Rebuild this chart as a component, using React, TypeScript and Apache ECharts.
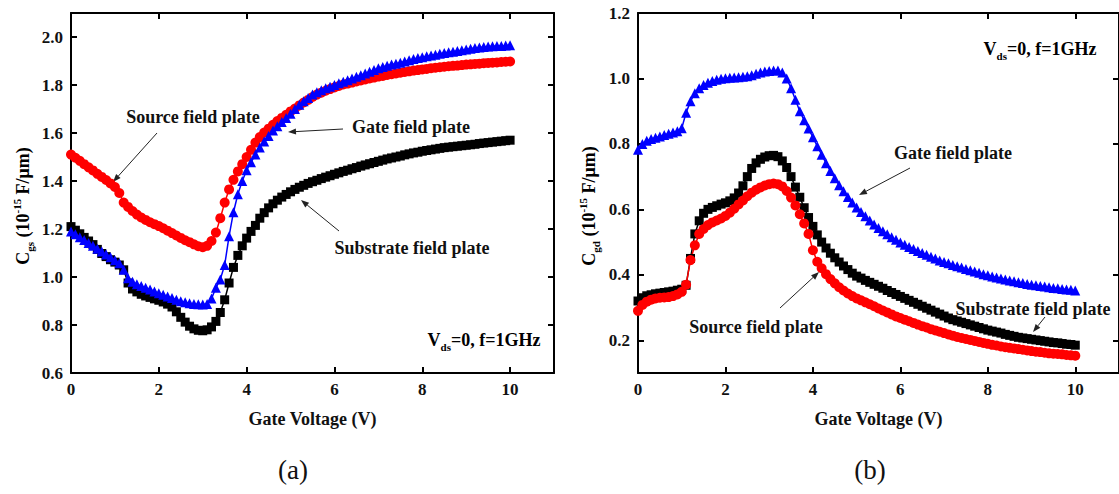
import React, { useEffect, useRef } from 'react';
import * as echarts from 'echarts';

// Gate voltage sweep: 0 .. 10 V, step 0.1 V
const VG_STEP = 0.1;

// (a) Cgs (10^-15 F/um)
const CGS_SOURCE = [
  1.510, 1.497, 1.484, 1.470, 1.457, 1.444, 1.430, 1.417, 1.404, 1.390,
  1.375, 1.350, 1.310, 1.292, 1.275, 1.260, 1.248, 1.238, 1.228, 1.220,
  1.212, 1.203, 1.193, 1.183, 1.173, 1.163, 1.153, 1.145, 1.136, 1.128,
  1.124, 1.130, 1.150, 1.185, 1.245, 1.310, 1.365, 1.405, 1.440, 1.470,
  1.500, 1.530, 1.560, 1.583, 1.602, 1.618, 1.634, 1.650, 1.663, 1.676,
  1.690, 1.702, 1.715, 1.727, 1.738, 1.750, 1.760, 1.768, 1.776, 1.783,
  1.790, 1.796, 1.802, 1.806, 1.810, 1.815, 1.819, 1.823, 1.827, 1.831,
  1.835, 1.838, 1.842, 1.845, 1.848, 1.851, 1.854, 1.857, 1.860, 1.862,
  1.865, 1.867, 1.870, 1.872, 1.874, 1.876, 1.878, 1.880, 1.881, 1.883,
  1.885, 1.886, 1.888, 1.889, 1.891, 1.892, 1.893, 1.894, 1.896, 1.897,
  1.898,
];
const CGS_GATE = [
  1.190, 1.178, 1.166, 1.154, 1.142, 1.130, 1.118, 1.106, 1.094, 1.082,
  1.070, 1.057, 1.030, 0.995, 0.980, 0.970, 0.962, 0.955, 0.948, 0.940,
  0.932, 0.926, 0.919, 0.912, 0.905, 0.899, 0.895, 0.891, 0.888, 0.886,
  0.885, 0.888, 0.910, 0.955, 0.990, 1.050, 1.170, 1.270, 1.345, 1.400,
  1.445, 1.478, 1.510, 1.540, 1.565, 1.588, 1.610, 1.628, 1.646, 1.663,
  1.680, 1.700, 1.718, 1.732, 1.746, 1.760, 1.770, 1.778, 1.786, 1.793,
  1.800, 1.807, 1.814, 1.820, 1.827, 1.834, 1.841, 1.848, 1.855, 1.862,
  1.870, 1.875, 1.880, 1.885, 1.889, 1.893, 1.898, 1.903, 1.908, 1.912,
  1.916, 1.920, 1.923, 1.926, 1.930, 1.933, 1.936, 1.939, 1.942, 1.945,
  1.948, 1.951, 1.954, 1.956, 1.958, 1.960, 1.961, 1.962, 1.963, 1.965,
  1.966,
];
const CGS_SUBSTRATE = [
  1.210, 1.195, 1.180, 1.165, 1.150, 1.135, 1.115, 1.098, 1.085, 1.072,
  1.062, 1.050, 1.030, 0.975, 0.950, 0.938, 0.928, 0.921, 0.915, 0.909,
  0.903, 0.896, 0.887, 0.875, 0.855, 0.832, 0.812, 0.795, 0.784, 0.778,
  0.776, 0.780, 0.792, 0.815, 0.852, 0.905, 0.975, 1.040, 1.090, 1.130,
  1.162, 1.190, 1.215, 1.245, 1.268, 1.288, 1.305, 1.320, 1.333, 1.344,
  1.355, 1.365, 1.374, 1.382, 1.390, 1.397, 1.403, 1.410, 1.416, 1.422,
  1.428, 1.434, 1.440, 1.445, 1.451, 1.456, 1.462, 1.467, 1.472, 1.477,
  1.482, 1.487, 1.492, 1.496, 1.500, 1.504, 1.509, 1.513, 1.517, 1.520,
  1.524, 1.527, 1.530, 1.533, 1.536, 1.539, 1.541, 1.543, 1.545, 1.547,
  1.549, 1.551, 1.553, 1.556, 1.558, 1.560, 1.562, 1.564, 1.566, 1.568,
  1.570,
];

// (b) Cgd (10^-15 F/um)
const CGD_GATE = [
  0.782, 0.800, 0.810, 0.815, 0.819, 0.823, 0.827, 0.831, 0.835, 0.839,
  0.848, 0.895, 0.930, 0.955, 0.970, 0.980, 0.987, 0.992, 0.996, 0.999,
  1.001, 1.002, 1.003, 1.004, 1.005, 1.007, 1.010, 1.014, 1.018, 1.021,
  1.023, 1.024, 1.024, 1.018, 1.000, 0.970, 0.935, 0.900, 0.872, 0.847,
  0.820, 0.793, 0.767, 0.741, 0.717, 0.695, 0.674, 0.655, 0.638, 0.621,
  0.606, 0.592, 0.579, 0.566, 0.554, 0.543, 0.533, 0.524, 0.515, 0.507,
  0.499, 0.492, 0.485, 0.479, 0.473, 0.467, 0.461, 0.455, 0.450, 0.444,
  0.439, 0.435, 0.430, 0.426, 0.422, 0.418, 0.414, 0.410, 0.406, 0.402,
  0.399, 0.395, 0.392, 0.389, 0.386, 0.383, 0.380, 0.377, 0.375, 0.372,
  0.370, 0.368, 0.366, 0.364, 0.362, 0.360, 0.359, 0.357, 0.355, 0.354,
  0.352,
];
const CGD_SUBSTRATE = [
  0.320, 0.330, 0.336, 0.339, 0.342, 0.344, 0.346, 0.348, 0.350, 0.353,
  0.356, 0.368, 0.450, 0.525, 0.565, 0.588, 0.600, 0.606, 0.611, 0.616,
  0.620, 0.626, 0.635, 0.650, 0.672, 0.700, 0.725, 0.742, 0.753, 0.760,
  0.764, 0.765, 0.761, 0.748, 0.728, 0.700, 0.668, 0.637, 0.605, 0.575,
  0.548, 0.522, 0.500, 0.482, 0.466, 0.452, 0.439, 0.427, 0.416, 0.405,
  0.396, 0.390, 0.383, 0.377, 0.371, 0.365, 0.359, 0.352, 0.346, 0.340,
  0.334, 0.328, 0.322, 0.316, 0.310, 0.304, 0.298, 0.292, 0.286, 0.280,
  0.274, 0.268, 0.263, 0.259, 0.255, 0.251, 0.247, 0.243, 0.239, 0.235,
  0.231, 0.228, 0.225, 0.222, 0.218, 0.215, 0.212, 0.209, 0.207, 0.205,
  0.203, 0.201, 0.199, 0.197, 0.195, 0.193, 0.192, 0.190, 0.188, 0.187,
  0.185,
];
const CGD_SOURCE = [
  0.290, 0.308, 0.318, 0.324, 0.328, 0.330, 0.331, 0.332, 0.335, 0.340,
  0.348, 0.370, 0.445, 0.490, 0.525, 0.540, 0.552, 0.560, 0.566, 0.572,
  0.580, 0.590, 0.602, 0.615, 0.627, 0.640, 0.651, 0.660, 0.667, 0.673,
  0.677, 0.679, 0.677, 0.670, 0.656, 0.636, 0.612, 0.585, 0.557, 0.525,
  0.475, 0.440, 0.420, 0.402, 0.387, 0.374, 0.362, 0.352, 0.343, 0.335,
  0.328, 0.322, 0.316, 0.310, 0.304, 0.297, 0.291, 0.285, 0.279, 0.273,
  0.268, 0.263, 0.258, 0.253, 0.248, 0.243, 0.239, 0.234, 0.230, 0.226,
  0.222, 0.218, 0.214, 0.210, 0.207, 0.204, 0.201, 0.198, 0.195, 0.192,
  0.189, 0.186, 0.184, 0.181, 0.179, 0.177, 0.175, 0.173, 0.171, 0.169,
  0.167, 0.165, 0.164, 0.162, 0.160, 0.159, 0.158, 0.157, 0.155, 0.154,
  0.153,
];

const X_TICKS = [0, 2, 4, 6, 8, 10];
const Y_TICKS_A = [0.6, 0.8, 1.0, 1.2, 1.4, 1.6, 1.8, 2.0];
const Y_TICKS_B = [0.2, 0.4, 0.6, 0.8, 1.0, 1.2];

const FONT = "'Liberation Serif', 'Times New Roman', serif";
const RED = '#ff0000';
const BLUE = '#0000ff';
const BLACK = '#000000';

const pairs = (arr: number[]) => arr.map((v, i) => [Math.round(i * VG_STEP * 10) / 10, v]);

const AXIS_LINE = { show: true, onZero: false, lineStyle: { color: '#000', width: 2 } };
const tick = (vals: number[]) => ({
  show: true, inside: true, length: 6, customValues: vals,
  lineStyle: { color: '#000', width: 2 },
});
const labelStyle = { fontFamily: FONT, fontWeight: 'bold' as const, fontSize: 17, color: '#111' };

function xAxesFor(gridIndex: number) {
  return [
    {
      type: 'value', gridIndex, min: 0, max: 11, position: 'bottom',
      axisLine: AXIS_LINE, axisTick: tick(X_TICKS), splitLine: { show: false },
      axisLabel: { ...labelStyle, customValues: X_TICKS, margin: 8, formatter: (v: number) => String(v) },
      name: 'Gate Voltage (V)', nameLocation: 'middle', nameGap: 37,
      nameTextStyle: { fontFamily: FONT, fontWeight: 'bold', fontSize: 18, color: '#111' },
    },
    {
      type: 'value', gridIndex, min: 0, max: 11, position: 'top',
      axisLine: AXIS_LINE, axisTick: tick(X_TICKS), splitLine: { show: false },
      axisLabel: { show: false },
    },
  ];
}

function yAxesFor(gridIndex: number, min: number, max: number, ticks: number[]) {
  return [
    {
      type: 'value', gridIndex, min, max, position: 'left',
      axisLine: AXIS_LINE, axisTick: tick(ticks), splitLine: { show: false },
      axisLabel: { ...labelStyle, customValues: ticks, margin: 8, formatter: (v: number) => v.toFixed(1) },
    },
    {
      type: 'value', gridIndex, min, max, position: 'right',
      axisLine: AXIS_LINE, axisTick: tick(ticks), splitLine: { show: false },
      axisLabel: { show: false },
    },
  ];
}

function lineSeries(data: number[], xi: number, yi: number, color: string, symbol: string, size: number) {
  return {
    type: 'line', xAxisIndex: xi, yAxisIndex: yi, data: pairs(data),
    symbol, symbolSize: size, showSymbol: true, showAllSymbol: true,
    itemStyle: { color, borderWidth: 0 },
    lineStyle: { color, width: 1.5 },
    emphasis: { disabled: true },
  };
}

const annStyle = { fontFamily: FONT, fontWeight: 'bold' as const, fontSize: 18, fill: '#111' };

function label(text: string, x: number, y: number) {
  return { type: 'text', x, y, style: { ...annStyle, text, align: 'center', verticalAlign: 'middle' } };
}

const RICH = {
  i: { fontFamily: FONT, fontWeight: 'bold', fontSize: 18, color: '#111', lineHeight: 24 },
  s: { fontFamily: FONT, fontWeight: 'bold', fontSize: 11, color: '#111', lineHeight: 10, verticalAlign: 'bottom' },
  p: { fontFamily: FONT, fontWeight: 'bold', fontSize: 11, color: '#111', lineHeight: 10, verticalAlign: 'top' },
};

function richText(text: string, x: number, y: number, rotation = 0) {
  return {
    type: 'text', x, y, rotation,
    style: { text, rich: RICH, align: 'center', verticalAlign: 'middle' },
  };
}

function arrow(x1: number, y1: number, x2: number, y2: number) {
  const ang = Math.atan2(y2 - y1, x2 - x1);
  const L = 8, W = 3;
  const bx = x2 - L * Math.cos(ang), by = y2 - L * Math.sin(ang);
  const px = -Math.sin(ang) * W, py = Math.cos(ang) * W;
  return [
    { type: 'line', shape: { x1, y1, x2: bx, y2: by }, style: { stroke: '#222', lineWidth: 1 } },
    { type: 'polygon', shape: { points: [[x2, y2], [bx + px, by + py], [bx - px, by - py]] }, style: { fill: '#222' } },
  ];
}

export default function App() {
  const ref = useRef<HTMLDivElement>(null);
  useEffect(() => {
    if (!ref.current) return;
    const chart = echarts.init(ref.current, null, { renderer: 'svg' });
    chart.setOption({
      animation: false,
      backgroundColor: '#ffffff',
      grid: [
        { left: 71, top: 13, width: 483, height: 360 },
        { left: 638, top: 13, width: 481, height: 360 },
      ],
      xAxis: [...xAxesFor(0), ...xAxesFor(1)],
      yAxis: [...yAxesFor(0, 0.6, 2.1, Y_TICKS_A), ...yAxesFor(1, 0.1, 1.2, Y_TICKS_B)],
      series: [
        lineSeries(CGS_SUBSTRATE, 0, 0, BLACK, 'rect', 9),
        lineSeries(CGS_SOURCE, 0, 0, RED, 'circle', 10),
        lineSeries(CGS_GATE, 0, 0, BLUE, 'triangle', 10),
        lineSeries(CGD_SUBSTRATE, 2, 2, BLACK, 'rect', 9),
        lineSeries(CGD_SOURCE, 2, 2, RED, 'circle', 10),
        lineSeries(CGD_GATE, 2, 2, BLUE, 'triangle', 10),
      ],
      graphic: [
        richText('{i|C}{s|gs}{i| (10}{p|-15}{i| F/μm)}', 23, 206, Math.PI / 2),
        richText('{i|C}{s|gd}{i| (10}{p|-15}{i| F/μm)}', 589, 206, Math.PI / 2),
        label('Source field plate', 193, 117),
        label('Gate field plate', 411, 127),
        label('Substrate field plate', 412, 248),
        richText('{i|V}{s|ds}{i|=0, f=1GHz}', 484, 340),
        richText('{i|V}{s|ds}{i|=0, f=1GHz}', 1040, 49),
        label('Gate field plate', 953, 153),
        label('Substrate field plate', 1033, 309),
        label('Source field plate', 756, 327),
        ...arrow(157, 133, 113, 182),
        ...arrow(343, 129, 288, 132),
        ...arrow(339, 231, 301, 200),
        ...arrow(910, 168, 859, 195),
        ...arrow(1045, 317, 1033, 332),
        ...arrow(780, 308, 819, 272),
        { type: 'text', x: 293, y: 470, style: { text: '(a)', fontFamily: FONT, fontSize: 27, fill: '#111', align: 'center', verticalAlign: 'middle' } },
        { type: 'text', x: 870, y: 470, style: { text: '(b)', fontFamily: FONT, fontSize: 27, fill: '#111', align: 'center', verticalAlign: 'middle' } },
      ],
    });
    return () => chart.dispose();
  }, []);
  return (
    <div
      ref={ref}
      style={{ position: 'absolute', left: 0, top: 0, width: 1119, height: 494, background: '#fff' }}
    />
  );
}
